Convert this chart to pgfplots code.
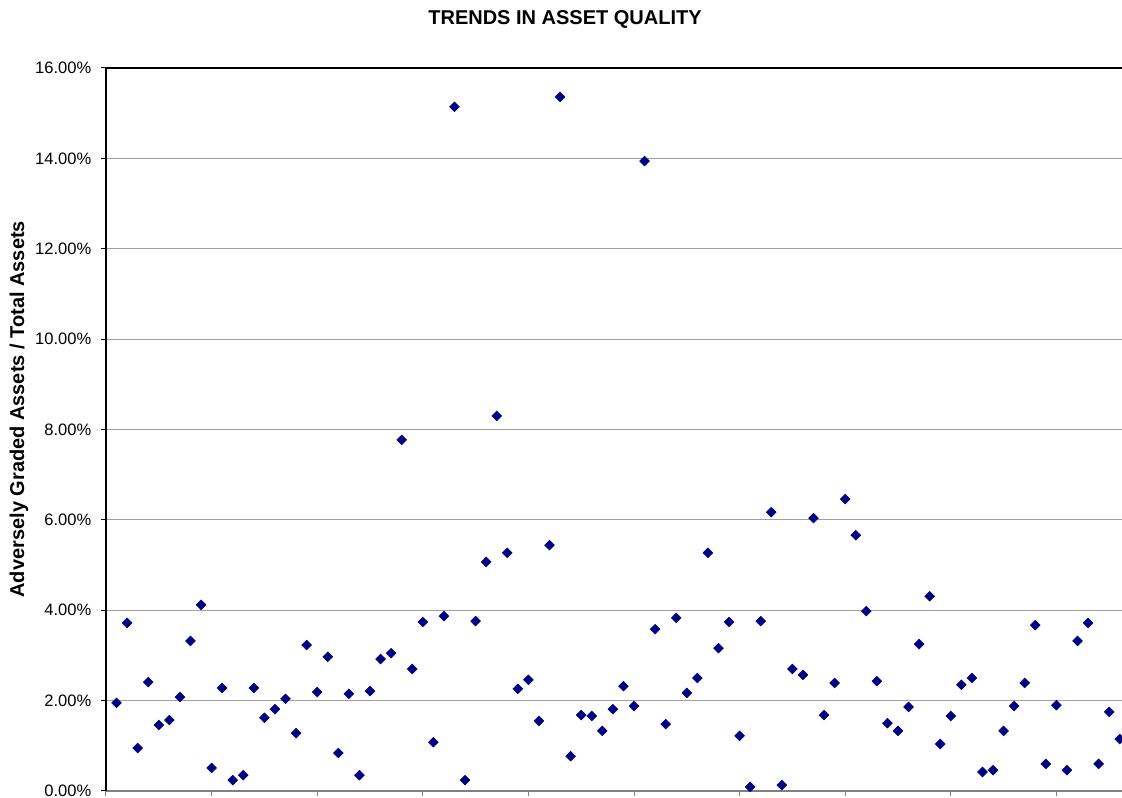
\documentclass[border=0pt]{standalone}
\usepackage{fontspec}
\setmainfont{Liberation Sans}
\usepackage{pgfplots}
\pgfplotsset{compat=1.18}
\definecolor{navymark}{RGB}{0,0,128}
\definecolor{gridgray}{RGB}{160,160,160}
\definecolor{axgray}{RGB}{128,128,128}
\begin{document}
\begin{tikzpicture}
\path[use as bounding box] (0,0) rectangle (841.5pt,598.5pt);
\begin{axis}[
  at={(79.5pt,5.25pt)}, anchor=south west,
  scale only axis, width=792pt, height=542.25pt,
  xmin=0, xmax=100, ymin=0, ymax=16,
  axis x line*=bottom, axis y line*=left,
  x axis line style={draw=axgray, line width=1.5pt, -},
  y axis line style={draw=black, line width=1.5pt, -},
  xtick={0,10,...,100}, xticklabels={},
  x tick style={draw=axgray, line width=0.75pt},
  y tick style={draw=black, line width=0.75pt},
  tick align=outside, major tick length=3.75pt,
  ytick={0,2,...,16},
  yticklabels={0.00\%,2.00\%,4.00\%,6.00\%,8.00\%,10.00\%,12.00\%,14.00\%,16.00\%},
  yticklabel style={font=\fontsize{12.4}{14}\selectfont, xshift=-3.75pt},
  ymajorgrids, major grid style={draw=gridgray, line width=0.75pt},
  title={TRENDS IN ASSET QUALITY},
  title style={font=\bfseries\fontsize{15}{18}\selectfont, at={(axis description cs:0.4347,1.0567)}, anchor=center},
  ylabel={Adversely Graded Assets / Total Assets},
  ylabel style={font=\bfseries\fontsize{15}{18}\selectfont, at={(axis description cs:-0.0824,0.528)}, anchor=center},
  clip=false,
]
\draw[black, line width=1.5pt] (rel axis cs:0,1) -- (rel axis cs:1,1);
\addplot[only marks, mark=square*, mark size=2.6pt, mark options={rotate=45, fill=navymark, draw=navymark}] coordinates {
(1,1.95) (2,3.72) (3,0.95) (4,2.41) (5,1.46) (6,1.57) (7,2.08) (8,3.32) (9,4.12) (10,0.51)
(11,2.28) (12,0.24) (13,0.35) (14,2.28) (15,1.62) (16,1.81) (17,2.04) (18,1.28) (19,3.23) (20,2.19)
(21,2.97) (22,0.84) (23,2.15) (24,0.35) (25,2.21) (26,2.92) (27,3.05) (28,7.77) (29,2.70) (30,3.74)
(31,1.08) (32,3.87) (33,15.14) (34,0.24) (35,3.76) (36,5.07) (37,8.30) (38,5.27) (39,2.26) (40,2.46)
(41,1.55) (42,5.44) (43,15.36) (44,0.77) (45,1.68) (46,1.66) (47,1.33) (48,1.81) (49,2.32) (50,1.88)
(51,13.94) (52,3.58) (53,1.48) (54,3.83) (55,2.17) (56,2.50) (57,5.27) (58,3.16) (59,3.74) (60,1.22)
(61,0.09) (62,3.76) (63,6.17) (64,0.13) (65,2.70) (66,2.57) (67,6.04) (68,1.68) (69,2.39) (70,6.46)
(71,5.66) (72,3.98) (73,2.43) (74,1.50) (75,1.33) (76,1.86) (77,3.25) (78,4.31) (79,1.04) (80,1.66)
(81,2.35) (82,2.50) (83,0.42) (84,0.46) (85,1.33) (86,1.88) (87,2.39) (88,3.67) (89,0.60) (90,1.90)
(91,0.46) (92,3.32) (93,3.72) (94,0.60) (95,1.75) (96,1.15)
};
\end{axis}
\end{tikzpicture}
\end{document}
